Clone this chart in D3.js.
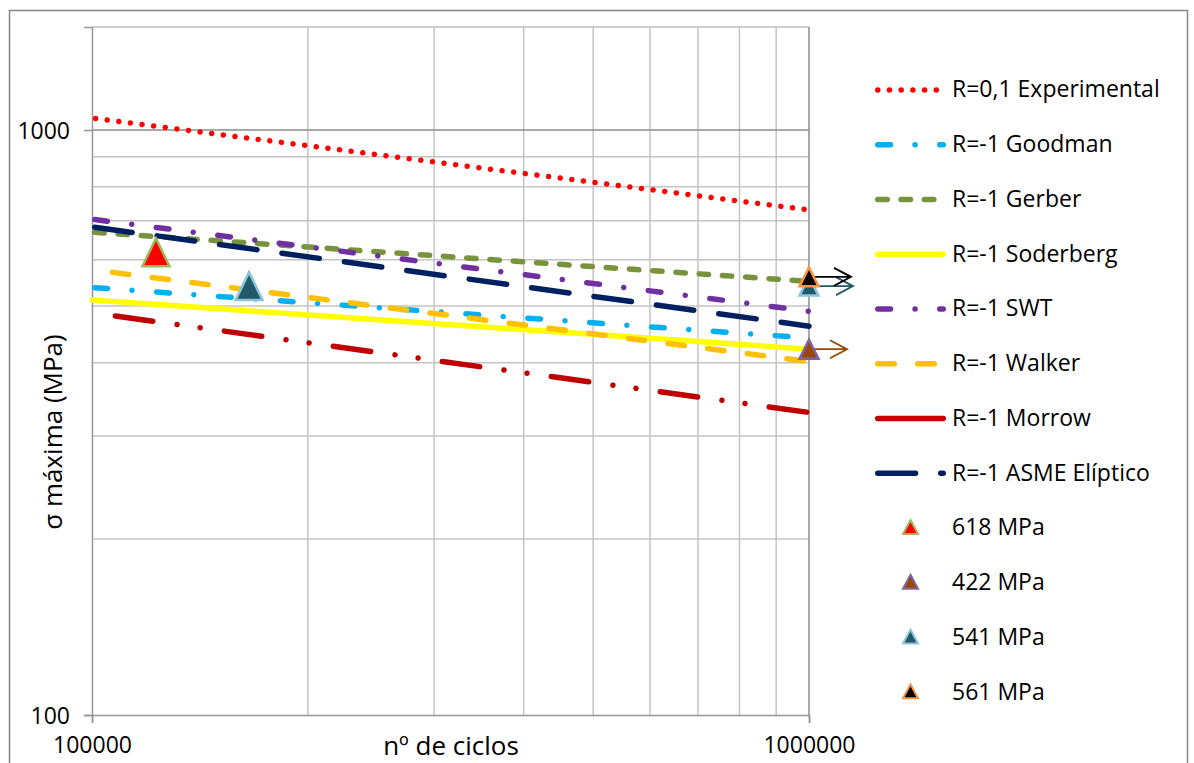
<!DOCTYPE html>
<html><head><meta charset="utf-8">
<script src="https://cdn.jsdelivr.net/npm/d3@7"></script>
<style>
body{margin:0;background:#fff;}
text{font-family:"Open Sans",sans-serif;fill:#000;}
</style>
</head><body>
<svg id="c" width="1194" height="763"></svg>
<script>
// ---------------- DATA ----------------
const cycles        = [100000, 1000000];
const walkerCycles  = [106800, 1000000];
const morrowCycles  = [107800, 1000000];
const experimental  = [1048, 730];
const goodman       = [538, 441];
const gerber        = [669, 551];
const soderberg     = [512, 422];
const swt           = [704, 490];
const walker        = [571, 402];
const morrow        = [481, 329];
const asme          = [683, 462];

const pt618N = [122800],          pt618S = [618];
const pt422N = [1000000],         pt422S = [422];
const pt541N = [165600, 1000000], pt541S = [541, 541];
const pt561N = [1000000],         pt561S = [561];

const xTickLabels = [100000, 1000000];
const yTickLabels = [100, 1000];
const xMinorGrid  = [200000, 300000, 400000, 500000, 600000, 700000, 800000, 900000];
const yMinorGrid  = [200, 300, 400, 500, 600, 700, 800, 900];

const lineNames = ["R=0,1 Experimental","R=-1 Goodman","R=-1 Gerber","R=-1 Soderberg","R=-1 SWT","R=-1 Walker","R=-1 Morrow","R=-1 ASME Elíptico"];
const pointNames = ["618 MPa","422 MPa","541 MPa","561 MPa"];

// ---------------- STYLES ----------------
const lineSeries = [
  {name: lineNames[0], x: cycles,       y: experimental, color:"#FF0000", dash:"0.01,11.7", off:8.1, w:5.5},
  {name: lineNames[1], x: cycles,       y: goodman,      color:"#00B0F0", dash:"12.8,24.5,0.01,24.7", off:-2.75, w:5.5},
  {name: lineNames[2], x: cycles,       y: gerber,       color:"#77933C", dash:"9.5,13.8", off:-2.75, w:5.5},
  {name: lineNames[3], x: cycles,       y: soderberg,    color:"#FFFF00", dash:null, off:0, w:5.5},
  {name: lineNames[4], x: cycles,       y: swt,          color:"#7030A0", dash:"12.8,24.5,0.01,24.7", off:-2.75, w:5.5},
  {name: lineNames[5], x: walkerCycles, y: walker,       color:"#FFC000", dash:"16.5,23.5", off:0, w:5.5},
  {name: lineNames[6], x: morrowCycles, y: morrow,       color:"#C00000", dash:"37.8,24.45,0.01,23.3,0.01,24.45", off:0, w:5.5, legendDash:null},
  {name: lineNames[7], x: cycles,       y: asme,         color:"#002060", dash:"37.8,25.2", off:-2.75, w:5.5}
];
const pointSeries = [
  {name: pointNames[0], x: pt618N, y: pt618S, fill:"#FF0000", stroke:"#9BBB59", arrow:null},
  {name: pointNames[1], x: pt422N, y: pt422S, fill:"#974806", stroke:"#8064A2", arrow:"#974806", arrowLen:38},
  {name: pointNames[2], x: pt541N, y: pt541S, fill:"#215968", stroke:"#8CC4DA", arrow:"#215968", arrowLen:44},
  {name: pointNames[3], x: pt561N, y: pt561S, fill:"#000000", stroke:"#F79646", arrow:"#000000", arrowLen:42}
];

// ---------------- LAYOUT ----------------
const svg = d3.select("#c");
const X0 = 92, X1 = 809, Y0 = 27, Y1 = 715;
const x = d3.scaleLog().domain([100000, 1000000]).range([X0, X1]);
const y = d3.scaleLog().domain([100, 1500]).range([Y1, Y0]);

// outer chart border
svg.append("rect").attr("x",9.5).attr("y",10.5).attr("width",1178).attr("height",770)
  .attr("fill","#fff").attr("stroke","#868686").attr("stroke-width",1.5);

// plot top border
svg.append("line").attr("x1",X0).attr("x2",X1).attr("y1",Y0).attr("y2",Y0)
  .attr("stroke","#BFBFBF").attr("stroke-width",1.5);

// minor gridlines
svg.append("g").selectAll("line").data(yMinorGrid).join("line")
  .attr("x1",X0).attr("x2",X1).attr("y1",d=>y(d)).attr("y2",d=>y(d))
  .attr("stroke","#C4C4C4").attr("stroke-width",1.5);
svg.append("g").selectAll("line").data(xMinorGrid).join("line")
  .attr("y1",Y0).attr("y2",Y1).attr("x1",d=>x(d)).attr("x2",d=>x(d))
  .attr("stroke","#C4C4C4").attr("stroke-width",1.5);

// major gridlines
svg.append("g").selectAll("line").data(yTickLabels.filter(d=>d!==100)).join("line")
  .attr("x1",X0).attr("x2",X1).attr("y1",d=>y(d)).attr("y2",d=>y(d))
  .attr("stroke","#8C8C8C").attr("stroke-width",1.5);
svg.append("g").selectAll("line").data(xTickLabels.filter(d=>d!==100000)).join("line")
  .attr("y1",Y0).attr("y2",Y1).attr("x1",d=>x(d)).attr("x2",d=>x(d))
  .attr("stroke","#8C8C8C").attr("stroke-width",1.5);

// axes
const yAxis = d3.axisLeft(y).tickValues(yTickLabels).tickFormat(d3.format("d")).tickSize(8).tickPadding(14);
const xAxis = d3.axisBottom(x).tickValues(xTickLabels).tickFormat(d3.format("d")).tickSize(8).tickPadding(16);
const gy = svg.append("g").attr("transform",`translate(${X0},0)`).call(yAxis);
const gx = svg.append("g").attr("transform",`translate(0,${Y1})`).call(xAxis);
[gy,gx].forEach(g=>{
  g.select(".domain").attr("stroke","#969696").attr("stroke-width",1.5);
  g.selectAll(".tick line").attr("stroke","#969696").attr("stroke-width",1.5);
  g.selectAll(".tick text").style("font-family","'Open Sans',sans-serif").style("font-size","23px").attr("fill","#000");
});
gy.selectAll(".tick text").attr("dy","0.36em");
gx.selectAll(".tick text").attr("dy","0.62em");

// axis titles
svg.append("text").attr("x",451).attr("y",755).attr("text-anchor","middle")
  .style("font-size","26px").text("nº de ciclos");
svg.append("text").attr("transform","translate(62,432) rotate(-90)").attr("text-anchor","middle")
  .style("font-size","26px").text("σ máxima (MPa)");

// lines
const lineGen = d3.line().x(d=>x(d[0])).y(d=>y(d[1]));
const gl = svg.append("g");
lineSeries.forEach(s=>{
  const pts = s.x.map((v,i)=>[v, s.y[i]]);
  gl.append("path").attr("d",lineGen(pts)).attr("fill","none")
    .attr("stroke",s.color).attr("stroke-width",s.w).attr("stroke-linecap","round")
    .attr("stroke-dasharray",s.dash).attr("stroke-dashoffset",s.off);
});

// triangle path
function tri(cx, cy, w, h){
  return `M${cx},${cy-h/2}L${cx+w/2},${cy+h/2}L${cx-w/2},${cy+h/2}Z`;
}

// runout arrows
const ga = svg.append("g");
pointSeries.forEach(s=>{
  if(!s.arrow) return;
  s.x.forEach((v,i)=>{
    if(v < 1000000) return;
    const px = x(v), py = y(s.y[i]);
    const tip = px + s.arrowLen;
    ga.append("path").attr("d",`M${px},${py}H${tip}M${tip-17},${py-9}L${tip},${py}L${tip-17},${py+9}`)
      .attr("fill","none").attr("stroke",s.arrow).attr("stroke-width",1.8).attr("stroke-linejoin","miter");
  });
});

// points
const gp = svg.append("g");
pointSeries.forEach(s=>{
  s.x.forEach((v,i)=>{
    const big = v < 1000000;
    const w = big ? 27 : 19, h = big ? 28 : 19;
    gp.append("path").attr("d",tri(x(v), y(s.y[i]), w, h))
      .attr("fill",s.fill).attr("stroke",s.stroke).attr("stroke-width",2.5).attr("stroke-linejoin","miter");
  });
});

// legend
const LX0 = 875, LX1 = 946, LT = 952, LY = 89, LS = 54.75;
const gleg = svg.append("g");
lineSeries.forEach((s,i)=>{
  const yy = LY + i*LS;
  const dash = ("legendDash" in s) ? s.legendDash : s.dash;
  gleg.append("line").attr("x1",LX0+2.75).attr("x2",LX1-2.75).attr("y1",yy+1).attr("y2",yy+1)
    .attr("stroke",s.color).attr("stroke-width",s.w).attr("stroke-linecap","round")
    .attr("stroke-dasharray",dash);
  gleg.append("text").attr("x",LT).attr("y",yy).attr("dy","0.36em").style("font-size","23px").text(s.name);
});
pointSeries.forEach((s,i)=>{
  const yy = LY + (i+lineSeries.length)*LS;
  gleg.append("path").attr("d",tri(910.5, yy, 15, 14))
    .attr("fill",s.fill).attr("stroke",s.stroke).attr("stroke-width",2);
  gleg.append("text").attr("x",LT).attr("y",yy).attr("dy","0.36em").style("font-size","23px").text(s.name);
});
</script>
</body></html>
